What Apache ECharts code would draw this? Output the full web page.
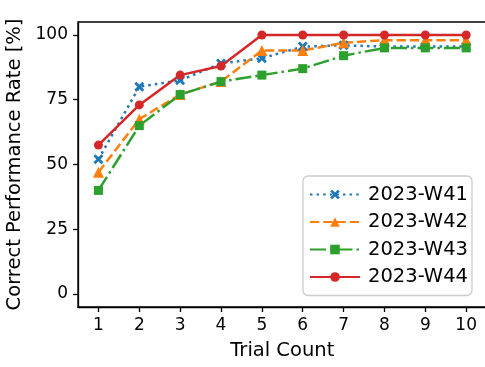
<!DOCTYPE html>
<html><head><meta charset="utf-8">
<script src="https://cdn.jsdelivr.net/npm/echarts@6/dist/echarts.min.js"></script>
<style>html,body{margin:0;padding:0;background:#fff}#c{width:485px;height:367px}</style>
</head><body><div id="c"></div>
<script>
const trials = [1,2,3,4,5,6,7,8,9,10];
const xTicks = [1,2,3,4,5,6,7,8,9,10];
const yTicks = [0,25,50,75,100];
const w41 = [52, 80, 82.5, 89, 91, 95.5, 96, 95.5, 95.5, 95.5];
const w42 = [47, 67.5, 77, 82, 94, 94, 97, 98, 98, 98];
const w43 = [40, 65, 77, 82, 84.5, 87, 92, 95, 95, 95];
const w44 = [57.5, 73, 84.5, 88, 100, 100, 100, 100, 100, 100];
const names = ['2023-W41','2023-W42','2023-W43','2023-W44'];

const FONT = 'DejaVu Sans';
const lw = 2.5;
const xPath = 'path://M2,0 L5,3 L8,0 L10,2 L7,5 L10,8 L8,10 L5,7 L2,10 L0,8 L3,5 L0,2 Z';
function pts(arr){ return trials.map((t,i)=>[t, arr[i]]); }
function mk(name, data, color, dash, symbol, size){
  return {
    name, type:'line', data: pts(data), color,
    symbol, symbolSize: size, showSymbol:true,
    lineStyle:{color, width: lw, type: dash, cap:'butt'},
    itemStyle:{color, borderWidth:0},
    emphasis:{disabled:true}, animation:false
  };
}
const chart = echarts.init(document.getElementById('c'));
chart.setOption({
  animation:false,
  grid:{left:78, top:22, width:408.6, bottom:60, show:true, borderColor:'#000', borderWidth:1.3, backgroundColor:'transparent', containLabel:false, outerBoundsMode:'none'},
  xAxis:{
    type:'value', min:0.5, max:10.5,
    name:'Trial Count', nameLocation:'middle', nameGap:34,
    nameTextStyle:{fontFamily:FONT, fontSize:19.5, color:'#000'},
    axisLine:{show:true, onZero:false, lineStyle:{color:'#000', width:1.3}},
    axisTick:{show:true, inside:false, length:5, lineStyle:{color:'#000', width:1.3}, customValues: xTicks},
    axisLabel:{fontFamily:FONT, fontSize:17, color:'#000', margin:10, customValues: xTicks},
    splitLine:{show:false}
  },
  yAxis:{
    type:'value', min:-5, max:105,
    name:'Correct Performance Rate [%]', nameLocation:'middle', nameGap:46,
    nameTextStyle:{fontFamily:FONT, fontSize:19.5, color:'#000'},
    axisLine:{show:true, onZero:false, lineStyle:{color:'#000', width:1.3}},
    axisTick:{show:true, inside:false, length:5, lineStyle:{color:'#000', width:1.3}, customValues: yTicks},
    axisLabel:{fontFamily:FONT, fontSize:17, color:'#000', margin:10, customValues: yTicks},
    splitLine:{show:false}
  },
  legend:{
    orient:'vertical', left:303, top:176,
    data: names,
    itemWidth:50, itemHeight:12, itemGap:6.5,
    padding:[8,4,8,6],
    backgroundColor:'#fff', borderColor:'#cccccc', borderWidth:1.3, borderRadius:5,
    textStyle:{fontFamily:FONT, fontSize:19.5, color:'#000', lineHeight:21, padding:[0,0,0,3]}
  },
  series:[
    mk(names[0], w41, '#1f77b4', [2.5,4.1], xPath, 10),
    mk(names[1], w42, '#ff7f0e', [9.25,4], 'triangle', 11),
    mk(names[2], w43, '#2ca02c', [16,4,2.5,4], 'rect', 9),
    mk(names[3], w44, '#d62728', 'solid', 'circle', 9)
  ]
});
</script></body></html>
